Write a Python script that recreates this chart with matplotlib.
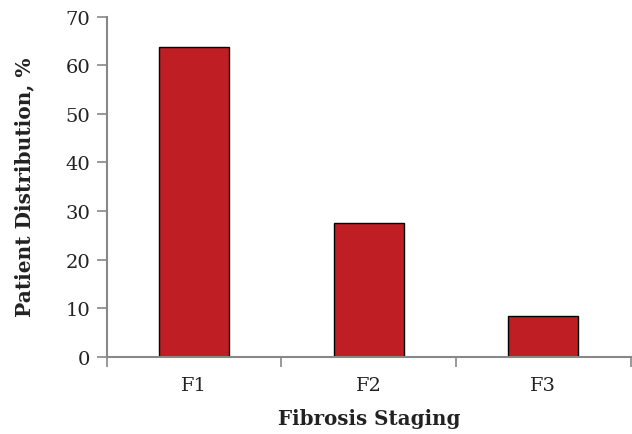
import matplotlib
matplotlib.use("Agg")
import matplotlib.pyplot as plt

categories = ["F1", "F2", "F3"]
values = [63.8, 27.5, 8.3]
yticks = [0, 10, 20, 30, 40, 50, 60, 70]

plt.rcParams["font.family"] = ["DejaVu Serif"]

fig = plt.figure(figsize=(6.32, 4.35), dpi=100)
ax = fig.add_axes([0.169, 0.178, 0.829, 0.781])

x = range(len(categories))
ax.bar(x, values, width=0.4, color="#BE1E24", edgecolor="black", linewidth=1.0)

ax.set_xlim(-0.5, len(categories) - 0.5)
ax.set_ylim(0, 70)
ax.set_yticks(yticks)
ax.set_xticks(list(x))
ax.set_xticklabels(categories)
ax.set_xticks([-0.5, 0.5, 1.5, 2.5], minor=True)

for s in ["top", "right"]:
    ax.spines[s].set_visible(False)
for s in ["left", "bottom"]:
    ax.spines[s].set_color("#888888")
    ax.spines[s].set_linewidth(1.5)

ax.tick_params(axis="y", direction="out", length=7, width=1.2, color="#888888",
               labelsize=14, labelcolor="#222222", pad=5)
ax.tick_params(axis="x", which="major", length=0, labelsize=14,
               labelcolor="#222222", pad=14)
ax.tick_params(axis="x", which="minor", direction="out", length=7, width=1.2,
               color="#888888")

ax.set_ylabel("Patient Distribution, %", fontsize=14.5, fontweight="bold",
              color="#222222", va="center")
ax.yaxis.set_label_coords(-0.157, 0.5)
ax.set_xlabel("Fibrosis Staging", fontsize=14.3, fontweight="bold",
              color="#222222", va="center")
ax.xaxis.set_label_coords(0.5, -0.182)

fig.savefig("out.png", dpi=100)
